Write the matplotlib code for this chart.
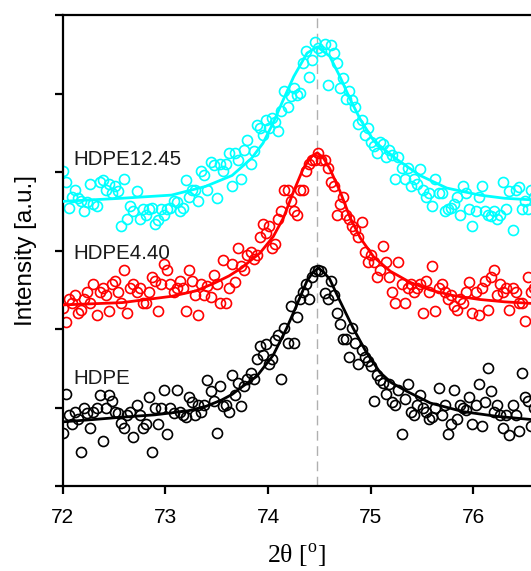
import matplotlib
matplotlib.use('Agg')
import matplotlib.pyplot as plt

plt.rcParams['font.family'] = ['Liberation Sans', 'DejaVu Sans']
plt.rcParams['mathtext.fontset'] = 'custom'
plt.rcParams['mathtext.rm'] = 'Liberation Serif'

# 2theta scan positions (shared by all three samples)
two_theta = [
    72.00, 72.03, 72.06, 72.09, 72.12, 72.15, 72.18, 72.21, 72.24, 72.27,
    72.30, 72.33, 72.36, 72.39, 72.42, 72.45, 72.48, 72.51, 72.54, 72.57,
    72.60, 72.63, 72.66, 72.69, 72.72, 72.75, 72.78, 72.81, 72.84, 72.87,
    72.90, 72.93, 72.96, 72.99, 73.02, 73.05, 73.08, 73.11, 73.14, 73.17,
    73.20, 73.23, 73.26, 73.29, 73.32, 73.35, 73.38, 73.41, 73.44, 73.47,
    73.50, 73.53, 73.56, 73.59, 73.62, 73.65, 73.68, 73.71, 73.74, 73.77,
    73.80, 73.83, 73.86, 73.89, 73.92, 73.95, 73.98, 74.01, 74.04, 74.07,
    74.10, 74.13, 74.16, 74.19, 74.22, 74.25, 74.28, 74.31, 74.34, 74.37,
    74.40, 74.43, 74.46, 74.49, 74.52, 74.55, 74.58, 74.61, 74.64, 74.67,
    74.70, 74.73, 74.76, 74.79, 74.82, 74.85, 74.88, 74.91, 74.94, 74.97,
    75.00, 75.03, 75.06, 75.09, 75.12, 75.15, 75.18, 75.21, 75.24, 75.27,
    75.30, 75.33, 75.36, 75.39, 75.42, 75.45, 75.48, 75.51, 75.54, 75.57,
    75.60, 75.63, 75.66, 75.69, 75.72, 75.75, 75.78, 75.81, 75.84, 75.87,
    75.90, 75.93, 75.96, 75.99, 76.02, 76.05, 76.08, 76.11, 76.14, 76.17,
    76.20, 76.23, 76.26, 76.29, 76.32, 76.35, 76.38, 76.41, 76.44, 76.47,
    76.50, 76.53, 76.56, 76.59, 76.62,
]

# measured intensities, stacked with vertical offsets [a.u.]
hdpe = [
    0.68, 1.17, 0.91, 0.79, 0.95, 0.86, 0.44, 1.00, 0.93, 0.74,
    0.95, 1.00, 1.16, 0.58, 1.00, 1.16, 1.09, 0.95, 0.93, 0.81,
    0.74, 0.91, 0.95, 0.63, 1.04, 0.91, 0.74, 0.79, 1.14, 0.44,
    1.00, 0.79, 1.00, 1.23, 0.67, 1.00, 0.93, 1.23, 0.95, 0.91,
    0.88, 1.14, 1.07, 0.91, 1.04, 0.95, 1.04, 1.35, 1.21, 1.09,
    0.68, 1.28, 1.02, 1.04, 0.95, 1.42, 1.16, 1.32, 1.02, 1.28,
    1.37, 1.44, 1.37, 1.62, 1.79, 1.67, 1.81, 1.56, 1.62, 1.86,
    1.93, 1.37, 2.02, 1.83, 2.30, 1.83, 2.16, 2.39, 2.48, 2.58,
    2.39, 2.67, 2.74, 2.76, 2.74, 2.46, 2.39, 2.62, 2.44, 2.21,
    2.07, 1.88, 1.88, 1.65, 2.02, 1.83, 1.56, 1.74, 1.65, 1.60,
    1.53, 1.09, 1.42, 1.35, 1.32, 1.18, 1.30, 1.07, 1.04, 1.23,
    0.67, 1.11, 1.30, 0.95, 0.91, 1.04, 1.16, 1.00, 0.95, 0.86,
    0.88, 1.00, 1.25, 0.91, 1.04, 0.67, 0.79, 1.23, 0.86, 1.04,
    1.00, 0.97, 1.14, 0.79, 1.04, 1.30, 0.77, 1.07, 1.51, 1.21,
    0.95, 1.04, 0.91, 0.74, 0.91, 0.65, 1.04, 0.91, 0.70, 1.44,
    1.14, 1.09, 0.77, 1.00, 0.91,
]

hdpe_440 = [
    2.27, 2.09, 2.39, 2.34, 2.44, 2.21, 2.25, 2.39, 2.48, 2.34,
    2.58, 2.18, 2.48, 2.53, 2.44, 2.23, 2.58, 2.62, 2.48, 2.34,
    2.76, 2.21, 2.53, 2.58, 2.48, 2.53, 2.34, 2.34, 2.48, 2.67,
    2.62, 2.23, 2.58, 2.83, 2.76, 2.58, 2.48, 2.53, 2.62, 2.53,
    2.23, 2.76, 2.62, 2.44, 2.18, 2.58, 2.44, 2.55, 2.41, 2.69,
    2.58, 2.34, 2.88, 2.34, 2.53, 2.83, 2.60, 3.04, 2.81, 2.76,
    2.95, 2.99, 2.90, 2.95, 3.18, 3.34, 3.23, 3.32, 3.04, 3.09,
    3.41, 3.51, 3.78, 3.78, 3.64, 3.51, 3.46, 3.78, 3.78, 4.02,
    4.11, 4.16, 4.16, 4.25, 4.16, 4.16, 4.06, 3.88, 3.83, 3.46,
    3.60, 3.69, 3.46, 3.41, 3.32, 3.27, 3.18, 3.37, 2.99, 2.86,
    2.95, 2.86, 2.67, 2.76, 3.06, 2.86, 2.67, 2.48, 2.34, 2.86,
    2.58, 2.34, 2.53, 2.58, 2.48, 2.53, 2.58, 2.21, 2.62, 2.48,
    2.81, 2.23, 2.53, 2.58, 2.48, 2.39, 2.44, 2.30, 2.25, 2.39,
    2.34, 2.48, 2.60, 2.21, 2.48, 2.18, 2.53, 2.62, 2.25, 2.67,
    2.76, 2.44, 2.58, 2.48, 2.53, 2.25, 2.53, 2.48, 2.34, 2.34,
    2.11, 2.67, 2.48, 2.53, 2.44,
]

hdpe_1245 = [
    4.02, 3.88, 3.55, 3.69, 3.78, 3.67, 3.64, 3.51, 3.62, 3.85,
    3.60, 3.57, 3.88, 3.90, 3.78, 3.85, 3.74, 3.83, 3.76, 3.32,
    3.92, 3.41, 3.57, 3.51, 3.76, 3.41, 3.53, 3.46, 3.53, 3.55,
    3.34, 3.39, 3.53, 3.46, 3.53, 3.55, 3.64, 3.62, 3.51, 3.55,
    3.90, 3.69, 3.78, 3.78, 3.64, 4.02, 3.97, 3.78, 4.13, 4.09,
    3.67, 4.11, 4.02, 4.11, 4.25, 3.83, 4.25, 4.16, 3.92, 4.29,
    4.41, 4.11, 4.27, 4.60, 4.57, 4.48, 4.67, 4.57, 4.69, 4.64,
    4.53, 4.78, 5.04, 4.83, 4.97, 5.08, 4.99, 5.01, 5.39, 5.55,
    5.22, 5.43, 5.66, 5.59, 5.55, 5.64, 5.11, 5.62, 5.52, 5.39,
    5.08, 5.20, 4.94, 5.04, 4.92, 4.83, 4.62, 4.67, 4.48, 4.57,
    4.39, 4.34, 4.25, 4.39, 4.36, 4.20, 4.29, 4.22, 3.92, 4.20,
    4.06, 3.92, 4.06, 3.83, 3.92, 3.85, 4.04, 3.78, 3.69, 3.74,
    3.57, 3.92, 3.74, 3.74, 3.51, 3.53, 3.55, 3.60, 3.69, 3.46,
    3.83, 3.74, 3.53, 3.32, 3.51, 3.69, 3.83, 3.51, 3.46, 3.44,
    3.51, 3.41, 3.46, 3.88, 3.53, 3.76, 3.27, 3.78, 3.81, 3.53,
    3.64, 3.53, 3.78, 3.69, 3.60,
]

# peak fits
fit_x_hdpe = [72.00, 72.30, 72.58, 72.90, 73.22, 73.40, 73.55, 73.65, 73.74, 73.89,
              74.05, 74.18, 74.28, 74.38, 74.44, 74.49, 74.54, 74.60, 74.70, 74.83,
              74.96, 75.09, 75.20, 75.35, 75.58, 75.90, 76.23, 76.56]
fit_y_hdpe = [0.82, 0.85, 0.88, 0.91, 0.96, 1.02, 1.10, 1.17, 1.26, 1.40,
              1.67, 2.01, 2.31, 2.62, 2.73, 2.78, 2.73, 2.64, 2.36, 2.01,
              1.70, 1.45, 1.32, 1.21, 1.06, 0.95, 0.89, 0.85]

fit_x_440 = [72.00, 72.58, 73.06, 73.30, 73.48, 73.62, 73.74, 73.92, 74.05, 74.15,
             74.25, 74.34, 74.42, 74.48, 74.54, 74.60, 74.70, 74.80, 74.90, 75.03,
             75.19, 75.38, 75.58, 75.80, 76.06, 76.30, 76.56]
fit_y_440 = [2.31, 2.34, 2.42, 2.49, 2.59, 2.68, 2.78, 2.97, 3.18, 3.42,
             3.76, 4.04, 4.20, 4.25, 4.18, 4.05, 3.76, 3.42, 3.16, 2.92,
             2.74, 2.60, 2.50, 2.43, 2.38, 2.35, 2.33]

fit_x_1245 = [72.00, 72.58, 73.06, 73.39, 73.65, 73.84, 73.95, 74.05, 74.15, 74.25,
              74.38, 74.48, 74.60, 74.70, 74.80, 74.90, 75.03, 75.26, 75.48, 75.74,
              76.06, 76.30, 76.56]
fit_y_1245 = [3.63, 3.67, 3.71, 3.82, 3.96, 4.18, 4.37, 4.63, 4.93, 5.22,
              5.52, 5.60, 5.48, 5.22, 4.93, 4.67, 4.40, 4.16, 3.96, 3.80,
              3.71, 3.67, 3.65]

labels = ['HDPE', 'HDPE4.40', 'HDPE12.45']
label_y = [1.37, 2.97, 4.17]
colors = ['black', 'red', 'cyan']
peak_pos = 74.48

fig = plt.figure(figsize=(5.31, 5.71), dpi=100)
ax = fig.add_axes([0.1179, 0.1485, 0.8821, 0.8245])

series = [(hdpe, fit_x_hdpe, fit_y_hdpe),
          (hdpe_440, fit_x_440, fit_y_440),
          (hdpe_1245, fit_x_1245, fit_y_1245)]

ax.axvline(peak_pos, color='#b0b0b0', lw=1.0, ls=(0, (7, 4)), zorder=1)

for (ys, fx, fy), c, lab, ly in zip(series, colors, labels, label_y):
    ax.plot(two_theta, ys, 'o', mfc='none', mec=c, ms=7.2, mew=1.2, zorder=2)
    ax.plot(fx, fy, '-', color=c, lw=2.0, zorder=3)
    ax.text(72.104, ly, lab, fontsize=14.8, color='#1a1a1a', ha='left', va='center')

ax.set_xlim(72, 76.56)
ax.set_ylim(0, 6)
ax.set_xticks([72, 73, 74, 75, 76])
ax.set_yticks([0, 1, 2, 3, 4, 5, 6])
ax.set_yticklabels([])

for s in ['left', 'bottom', 'top']:
    ax.spines[s].set_linewidth(1.6)
ax.spines['right'].set_visible(False)
ax.tick_params(axis='both', direction='out', length=6, width=1.6)
ax.tick_params(axis='x', labelsize=15, pad=10)

ax.set_xlabel(r'2θ [$^{\mathrm{o}}$]', fontsize=18.5, family=['Liberation Serif', 'DejaVu Serif'])
ax.xaxis.set_label_coords(0.5, -0.149)
ax.xaxis.label.set_va('center')
ax.set_ylabel('Intensity [a.u.]', fontsize=17.5)
ax.yaxis.set_label_coords(-0.079, 0.5)
ax.yaxis.label.set_va('center')

plt.savefig('out.png', dpi=100)
plt.close()
